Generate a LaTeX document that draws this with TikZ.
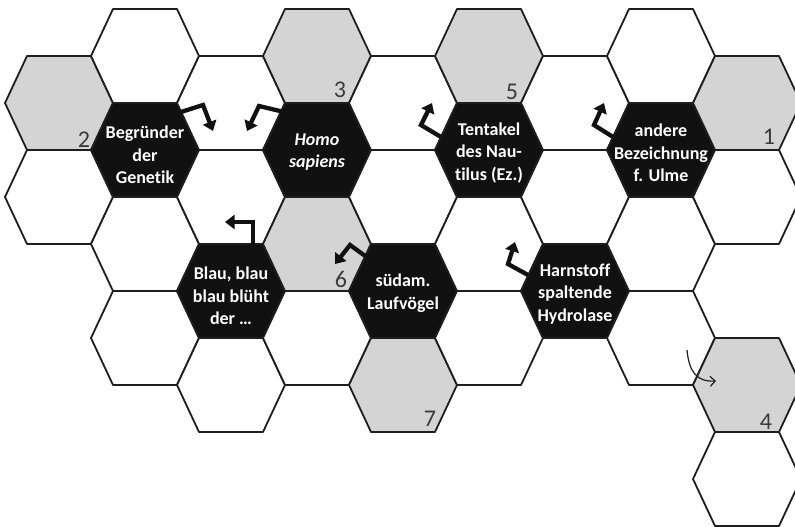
\documentclass[tikz,border=0pt]{standalone}
\usepackage{fontspec}
\setmainfont[RawFeature={-liga}]{Carlito}
\usetikzlibrary{arrows.meta}
\definecolor{hexgray}{HTML}{D4D4D4}
\definecolor{hexblack}{HTML}{111111}
\definecolor{numgray}{HTML}{3A3A3A}
\definecolor{edgecol}{HTML}{1E1E1E}
\begin{document}
\begin{tikzpicture}[x=1pt,y=-1pt,
  hexedge/.style={draw=edgecol,line width=1.8pt,line join=round},
  cluetext/.style={text=white,align=center,inner sep=0pt,
    font=\bfseries\fontsize{18}{22.5}\selectfont},
  numtext/.style={text=numgray,inner sep=0pt,font=\fontsize{24}{24}\selectfont},
  bentarrow/.style={line width=4.3pt,line join=miter,draw=hexblack,
    -{Triangle[length=9.5pt,width=14pt]}},
  thinarrow/.style={line width=1.2pt,draw=edgecol,
    -{Straight Barb[length=5pt,width=10pt]}}]
\useasboundingbox (0,0) rectangle (795,527);
% honeycomb
\foreach \x/\y/\f in {
  59/103/hexgray, 59/197/white,
  145/56/white, 145/150/hexblack, 145/244/white, 145/338/white,
  231/103/white, 231/197/white, 231/291/hexblack, 231/385/white,
  317/56/hexgray, 317/150/hexblack, 317/244/hexgray, 317/338/white,
  403/103/white, 403/197/white, 403/291/hexblack, 403/385/hexgray,
  489/56/hexgray, 489/150/hexblack, 489/244/white, 489/338/white,
  575/103/white, 575/197/white, 575/291/hexblack,
  661/56/white, 661/150/hexblack, 661/244/white, 661/338/white,
  747/103/hexgray, 747/197/white, 747/385/hexgray, 747/479/white}{
  \filldraw[hexedge,fill=\f] (\x,\y) ++(-54,0) -- ++(22,-47) -- ++(64,0)
    -- ++(22,47) -- ++(-22,47) -- ++(-64,0) -- cycle;
}
% clue texts
\node[cluetext] (begr) at (145,155) {Begründer\\der\\Genetik};
\node[cluetext] (homo) at (317,152) {\textit{Homo}\\\textit{sapiens}};
\node[cluetext] (tent) at (489,153) {Tentakel\\des Nau-\\tilus (Ez.)};
\node[cluetext] (andr) at (661,153) {andere\\Bezeichnung\\f. Ulme};
\node[cluetext] (blau) at (231,296) {Blau, blau\\blau blüht\\der …};
\node[cluetext] (sued) at (403,293) {südam.\\Laufvögel};
\node[cluetext] (harn) at (575,294) {Harnstoff\\spaltende\\Hydrolase};
% numbers
\node[numtext] (n2) at (84,140) {2};
\node[numtext] (n3) at (340,90) {3};
\node[numtext] (n5) at (512,92) {5};
\node[numtext] (n1) at (769,137) {1};
\node[numtext] (n6) at (341,279) {6};
\node[numtext] (n7) at (430,419) {7};
\node[numtext] (n4) at (766,422) {4};
% bent arrows
\draw[bentarrow] (181,112) -- (203,105) -- (213,131);
\draw[bentarrow] (284,112) -- (259,106) -- (247,131);
\draw[bentarrow] (441,137) -- (421,125) -- (432,103);
\draw[bentarrow] (613,137) -- (594,125) -- (604,103);
\draw[bentarrow] (253,246) -- (253,222) -- (225,222);
\draw[bentarrow] (368,258) -- (350,245) -- (335,264);
\draw[bentarrow] (528,275) -- (508,264) -- (515,242);
% thin curved arrow
\draw[thinarrow] (687,350) .. controls (689,372) and (697,382) .. (716,381);
\end{tikzpicture}
\end{document}
